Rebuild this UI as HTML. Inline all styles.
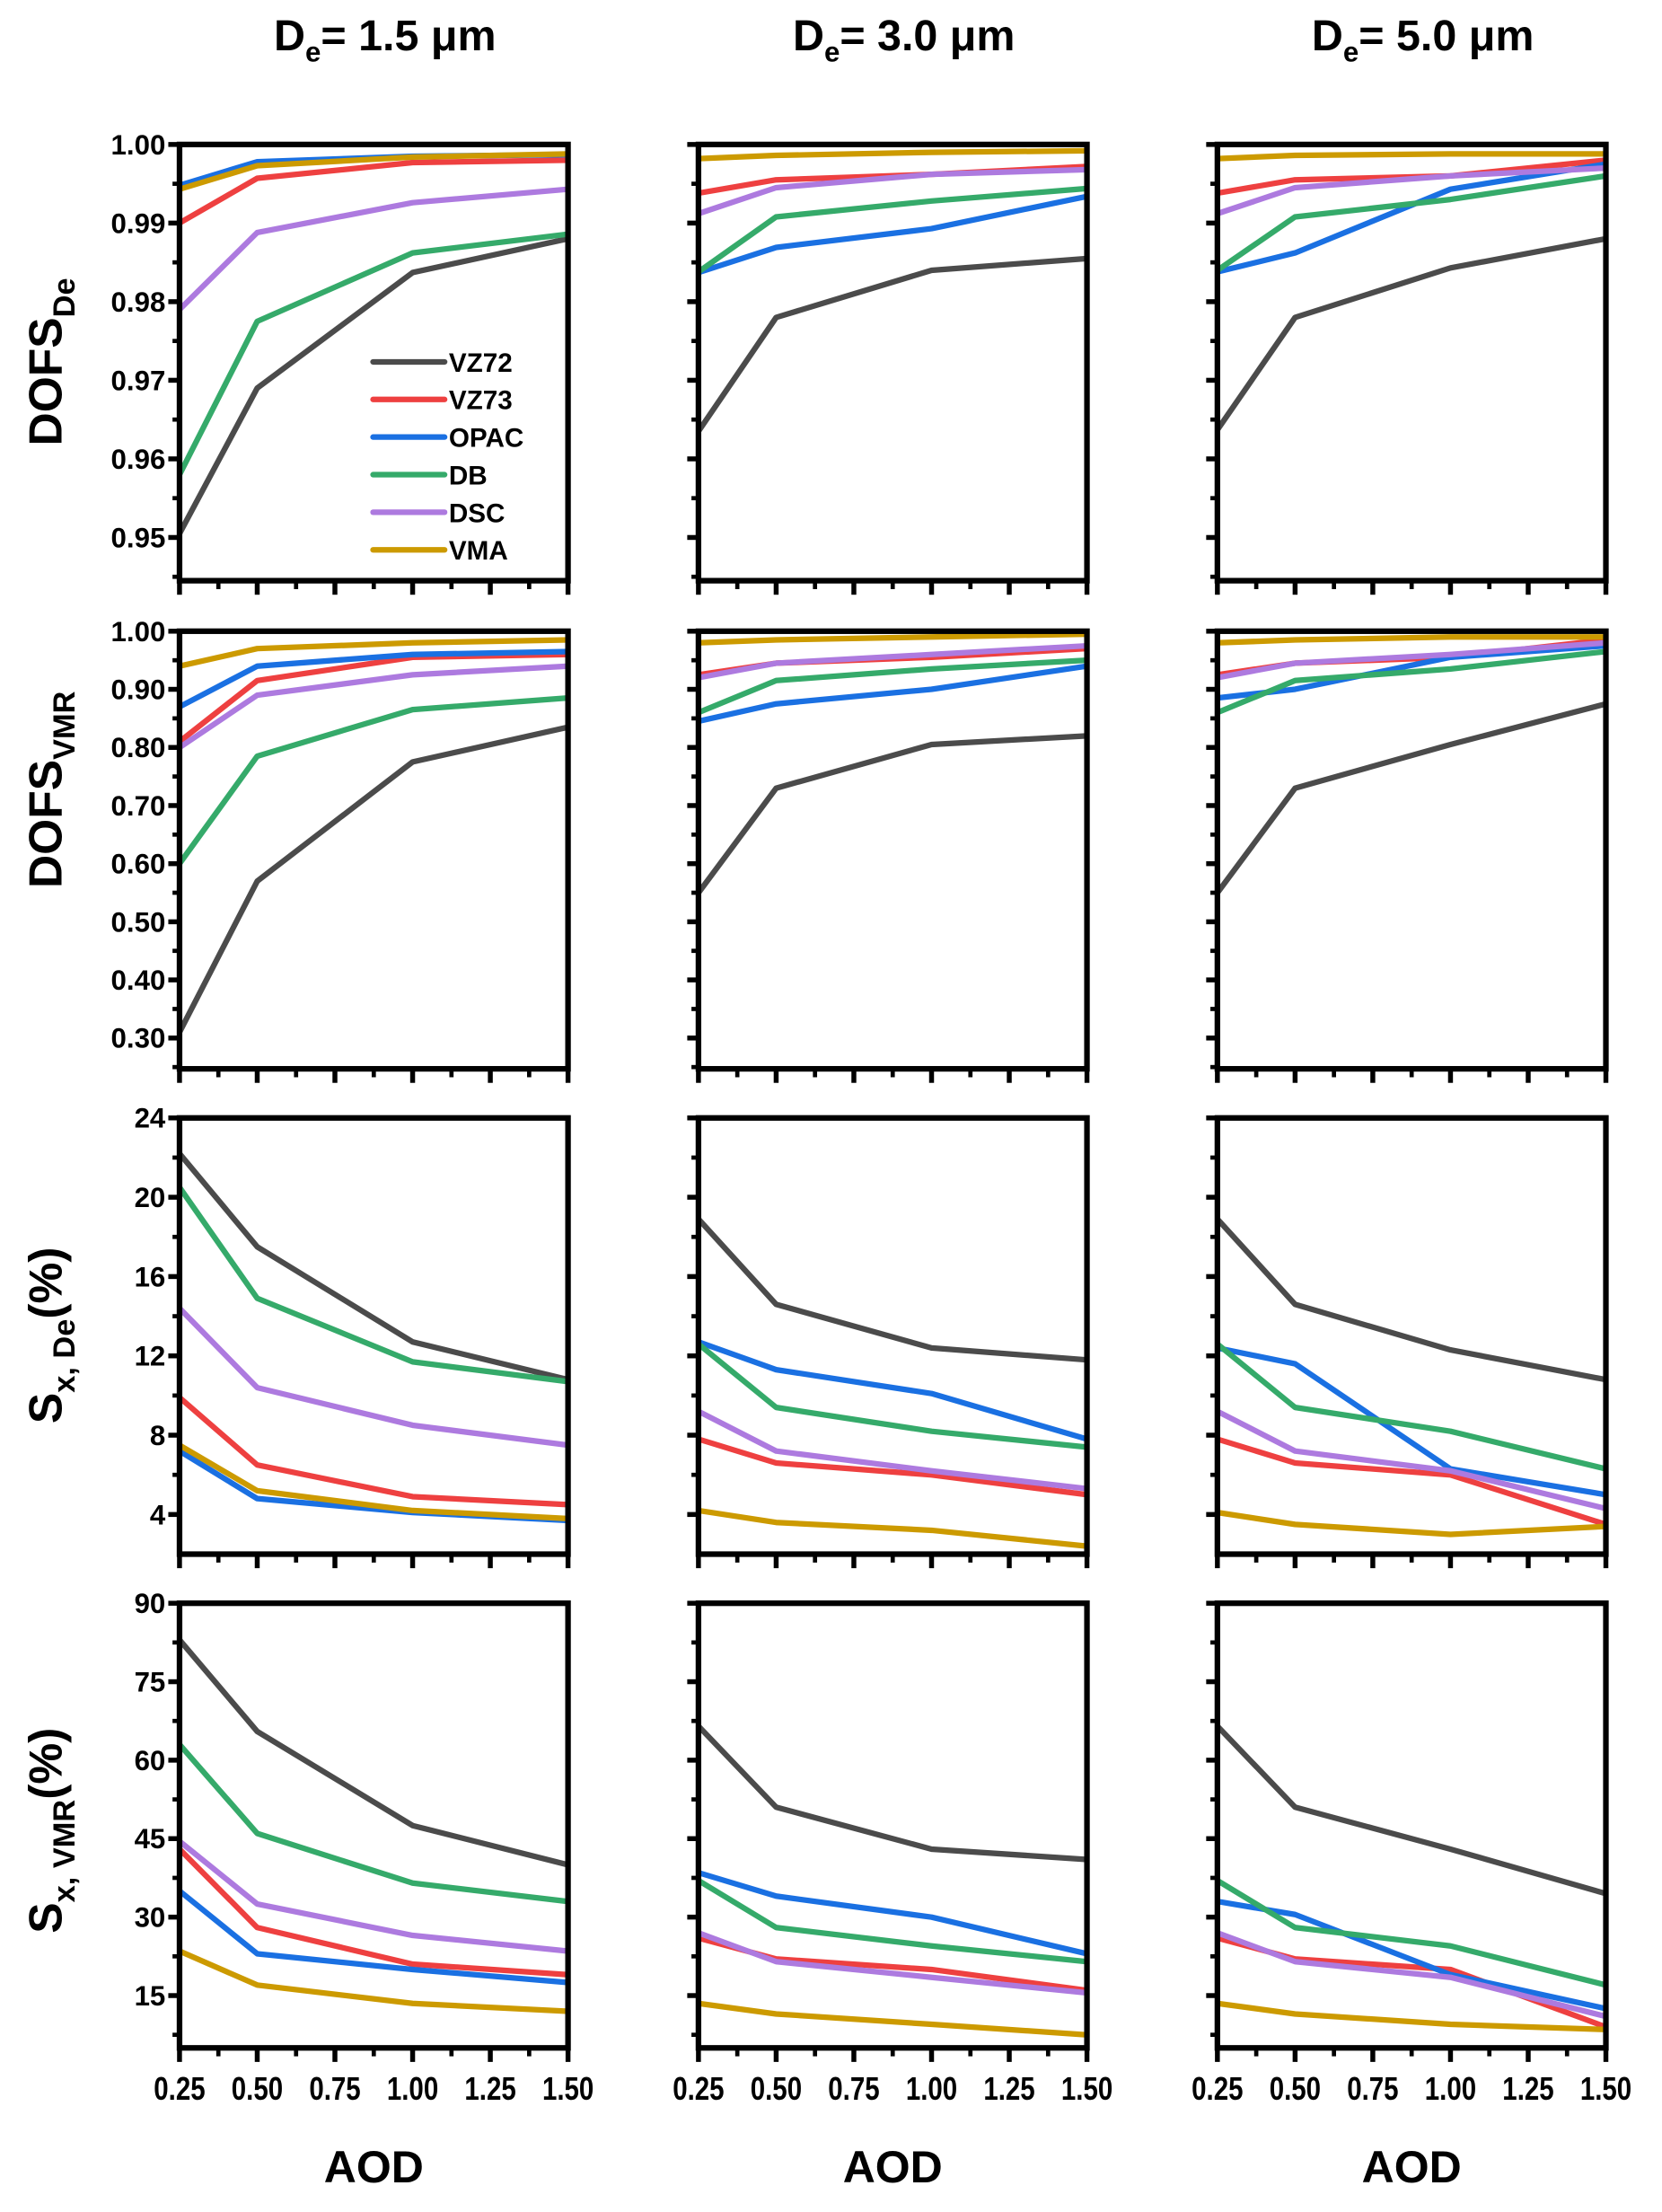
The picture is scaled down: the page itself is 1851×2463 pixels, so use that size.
<!DOCTYPE html>
<html><head><meta charset="utf-8"><style>
html,body{margin:0;padding:0;background:#fff;}
svg{display:block;}
text{font-family:"Liberation Sans",Arial,sans-serif;font-weight:bold;fill:#000;}
</style></head><body>
<svg id="fig" width="1851" height="2463" viewBox="0 0 1185 1577" preserveAspectRatio="none" xmlns="http://www.w3.org/2000/svg"></svg>
<script>
const seriesNames = ["VZ72","VZ73","OPAC","DB","DSC","VMA"];
const seriesColors = ["#4b4b4b","#ee4040","#1a70e2","#35aa6a","#ad7adf","#cc9a00"];
const xValues = [0.25,0.5,1.0,1.5];
const xTickLabels = ["0.25","0.50","0.75","1.00","1.25","1.50"];
const colTitles = ["1.5","3.0","5.0"];

// Row 1: DOFS_De
const r1c1 = [[0.9505,0.969,0.9837,0.988],[0.990,0.9957,0.9977,0.998],[0.9948,0.9978,0.9985,0.9987],[0.958,0.9775,0.9862,0.9886],[0.979,0.9888,0.9926,0.9943],[0.9943,0.9973,0.9984,0.9988]];
const r1c2 = [[0.9635,0.978,0.984,0.9855],[0.9938,0.9955,0.9962,0.9972],[0.9837,0.9869,0.9893,0.9934],[0.9838,0.9908,0.9928,0.9944],[0.9912,0.9945,0.9962,0.9968],[0.9982,0.9986,0.999,0.9992]];
const r1c3 = [[0.9637,0.978,0.9843,0.988],[0.9938,0.9955,0.996,0.998],[0.9838,0.9862,0.9943,0.9975],[0.984,0.9908,0.993,0.996],[0.9912,0.9945,0.996,0.997],[0.9982,0.9986,0.9988,0.9988]];
// Row 2: DOFS_VMR
const r2c1 = [[0.31,0.57,0.775,0.835],[0.81,0.915,0.955,0.96],[0.87,0.94,0.96,0.965],[0.60,0.785,0.865,0.885],[0.80,0.89,0.925,0.94],[0.94,0.97,0.98,0.985]];
const r2c2 = [[0.55,0.73,0.805,0.82],[0.925,0.945,0.955,0.97],[0.845,0.875,0.90,0.94],[0.86,0.915,0.935,0.95],[0.92,0.945,0.96,0.975],[0.98,0.985,0.99,0.995]];
const r2c3 = [[0.55,0.73,0.805,0.875],[0.925,0.945,0.955,0.985],[0.885,0.90,0.955,0.975],[0.86,0.915,0.935,0.965],[0.92,0.945,0.96,0.98],[0.98,0.985,0.99,0.99]];
// Row 3: Sx,De (%)
const r3c1 = [[22.2,17.5,12.7,10.8],[9.9,6.5,4.9,4.5],[7.2,4.8,4.1,3.7],[20.5,14.9,11.7,10.7],[14.4,10.4,8.5,7.5],[7.5,5.2,4.2,3.8]];
const r3c2 = [[18.9,14.6,12.4,11.8],[7.8,6.6,6.0,5.0],[12.7,11.3,10.1,7.8],[12.6,9.4,8.2,7.4],[9.2,7.2,6.2,5.3],[4.2,3.6,3.2,2.4]];
const r3c3 = [[18.9,14.6,12.3,10.8],[7.8,6.6,6.0,3.5],[12.4,11.6,6.3,5.0],[12.6,9.4,8.2,6.3],[9.2,7.2,6.2,4.3],[4.1,3.5,3.0,3.4]];
// Row 4: Sx,VMR (%)
const r4c1 = [[83,65.5,47.5,40],[43,28,21,19],[35,23,20,17.5],[63,46,36.5,33],[44.5,32.5,26.5,23.5],[23.5,17,13.5,12]];
const r4c2 = [[66.5,51,43,41],[26,22,20,16],[38.5,34,30,23],[37,28,24.5,21.5],[27,21.5,18.5,15.5],[13.5,11.5,9.5,7.5]];
const r4c3 = [[66.5,51,43,34.5],[26,22,20,9],[33,30.5,19,12.5],[37,28,24.5,17],[27,21.5,18.5,11],[13.5,11.5,9.5,8.5]];

const r1Ticks = ["0.95","0.96","0.97","0.98","0.99","1.00"];
const r2Ticks = ["0.30","0.40","0.50","0.60","0.70","0.80","0.90","1.00"];
const r3Ticks = ["4","8","12","16","20","24"];
const r4Ticks = ["15","30","45","60","75","90"];

const NS = "http://www.w3.org/2000/svg";
const svg = document.getElementById("fig");
function mk(tag, attrs, parent){
  const e = document.createElementNS(NS, tag);
  for (const k in attrs) e.setAttribute(k, attrs[k]);
  (parent||svg).appendChild(e);
  return e;
}
const colX = [[128,405],[498,775],[868,1145]];
const rowY = [[103,414],[450,762],[797,1108],[1143,1460]];
const rowDomain = [[0.9445,1.0],[0.247,1.0],[2.0,24],[5,90]];
const rowTicks = [r1Ticks,r2Ticks,r3Ticks,r4Ticks];
const data = [[r1c1,r1c2,r1c3],[r2c1,r2c2,r2c3],[r3c1,r3c2,r3c3],[r4c1,r4c2,r4c3]];

for (let r=0;r<4;r++){
  for (let c=0;c<3;c++){
    const [x0,x1] = colX[c], [yT,yB] = rowY[r], [d0,d1] = rowDomain[r];
    const sx = v => x0 + (v-0.25)/(1.25)*(x1-x0);
    const sy = v => yB - (v-d0)/(d1-d0)*(yB-yT);
    const g = mk("g", {});
    
    
    const ticks = rowTicks[r];
    const step = parseFloat(ticks[1]) - parseFloat(ticks[0]);
    for (let i=0;i<ticks.length;i++){
      const v = parseFloat(ticks[i]);
      const y = sy(v);
      mk("line",{x1:x0-8,x2:x0,y1:y,y2:y,stroke:"#000","stroke-width":3.5},g);
      const mv = v - step/2;
      if (mv > d0) { const ym = sy(mv); mk("line",{x1:x0-5,x2:x0,y1:ym,y2:ym,stroke:"#000","stroke-width":3},g); }
      if (c===0){
        const t = mk("text",{x:x0-10,y:y+7,"text-anchor":"end","font-size":20},g);
        t.textContent = ticks[i];
        
        
      }
    }
    for (let i=0;i<xTickLabels.length;i++){
      const v = parseFloat(xTickLabels[i]);
      const x = sx(v);
      mk("line",{x1:x,x2:x,y1:yB,y2:yB+10,stroke:"#000","stroke-width":3.5},g);
      if (i<xTickLabels.length-1){ const xm = sx(v+0.125); mk("line",{x1:xm,x2:xm,y1:yB,y2:yB+6,stroke:"#000","stroke-width":3},g); }
      if (r===3){
        const t = mk("text",{x:x,y:yB+37,"text-anchor":"middle","font-size":23,transform:"translate("+x+",0) scale(0.82,1) translate("+(-x)+",0)"},g);
        t.textContent = xTickLabels[i];
        
        
      }
    }
    const ds = data[r][c];
    for (let s=0;s<seriesNames.length;s++){
      const pts = ds[s].map((v,i)=> sx(xValues[i]).toFixed(1)+","+sy(v).toFixed(1)).join(" ");
      const pl = mk("polyline",{points:pts,fill:"none",stroke:seriesColors[s],"stroke-width":4,"stroke-linejoin":"round"},g);
      
      
    }
    const fr = mk("rect",{x:x0,y:yT,width:x1-x0,height:yB-yT,fill:"none",stroke:"#000","stroke-width":4},g);
    
    
  }
}
const lg = mk("g",{});


for (let s=0;s<seriesNames.length;s++){
  const y = 258 + s*26.8;
  mk("line",{x1:266,x2:317,y1:y,y2:y,stroke:seriesColors[s],"stroke-width":4,"stroke-linecap":"round"},lg);
  const t = mk("text",{x:320,y:y+7,"font-size":19},lg);
  t.textContent = seriesNames[s];
  
  
}
for (let c=0;c<3;c++){
  const cx = (colX[c][0]+colX[c][1])/2;
  const t = mk("text",{x:cx+8,y:36,"text-anchor":"middle","font-size":31});
  t.innerHTML = 'D<tspan font-size="20" dy="8">e</tspan><tspan dy="-8">= '+colTitles[c]+' \u03bcm</tspan>';
  
  
  const a = mk("text",{x:cx,y:1556,"text-anchor":"middle","font-size":32});
  a.textContent = "AOD";
  
  
}
const yTitles = [
  ['DOFS','De','',258],
  ['DOFS','VMR','',563],
  ['S','x, De','(%)',952],
  ['S','x, VMR','(%)',1305]
];
for (const [a,b,cc,y] of yTitles){
  const t = mk("text",{x:0,y:0,"text-anchor":"middle","font-size":33,transform:"translate(44,"+y+") rotate(-90)"});
  t.innerHTML = a+'<tspan font-size="22" dy="9">'+b+'</tspan>'+(cc?'<tspan dy="-9">'+cc+'</tspan>':'');
  
  
}
</script>
</body></html>
